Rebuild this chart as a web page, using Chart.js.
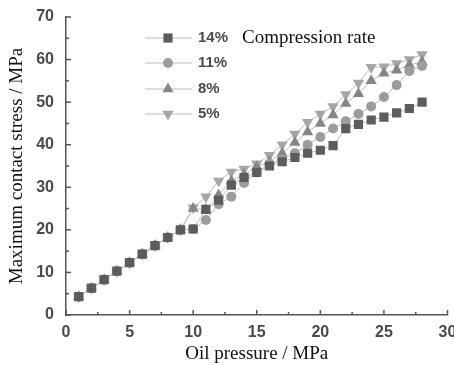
<!DOCTYPE html>
<html>
<head>
<meta charset="utf-8">
<script src="https://cdn.jsdelivr.net/npm/chart.js@4.4.1/dist/chart.umd.min.js"></script>
<style>
  html, body { margin: 0; padding: 0; background: #fff; }
  #wrap { width: 454px; height: 365px; }
</style>
</head>
<body>
<div id="wrap"><canvas id="myChart" width="454" height="365"></canvas></div>
<script>
const pressure = [1,2,3,4,5,6,7,8,9,10,11,12,13,14,15,16,17,18,19,20,21,22,23,24,25,26,27,28];
const start = [4.3, 6.3, 8.3, 10.3, 12.3, 14.3, 16.3, 18.2, 20.0];

const rate14 = start.concat([20.2, 24.8, 27.0, 30.5, 32.3, 33.5, 35.0, 36.0, 37.0, 38.0, 38.7, 39.8, 43.8, 44.8, 45.8, 46.5, 47.5, 48.5, 50.0]);
const rate11 = start.concat([20.2, 22.3, 26.0, 27.8, 31.0, 33.5, 35.5, 36.5, 38.0, 40.0, 41.8, 43.8, 45.5, 47.2, 49.0, 51.2, 54.0, 57.3, 58.5]);
const rate8  = start.concat([25.0, 24.8, 28.2, 31.5, 33.0, 34.8, 36.0, 38.0, 40.5, 43.0, 45.0, 47.0, 49.7, 52.0, 55.0, 56.8, 57.5, 58.7, 59.5]);
const rate5  = start.concat([25.2, 27.8, 31.5, 33.6, 34.3, 35.5, 37.5, 40.0, 42.5, 45.3, 47.2, 49.0, 51.8, 54.5, 58.2, 58.3, 59.1, 60.0, 61.2]);

const seriesNames = ['14%', '11%', '8%', '5%'];
const xTicks = [0, 5, 10, 15, 20, 25, 30];
const yTicks = [0, 10, 20, 30, 40, 50, 60, 70];

const tickFont = { family: 'Liberation Sans, Arial', size: 16, weight: 'bold' };
const serif = 'Liberation Serif, Times New Roman, serif';

function pts(arr) {
  return arr.map((v, i) => ({ x: pressure[i], y: v }));
}

function makeSet(label, arr, style, color, r, rot) {
  return {
    label: label,
    data: pts(arr),
    borderColor: '#bdbdbd',
    borderWidth: 1,
    backgroundColor: color,
    pointBackgroundColor: color,
    pointBorderColor: color,
    pointBorderWidth: 0,
    pointStyle: style,
    pointRotation: rot || 0,
    pointRadius: r,
    tension: 0
  };
}

// inward tick marks + legend drawn inside the plot
const extras = {
  id: 'extras',
  afterDraw(chart) {
    const ctx = chart.ctx;
    const xs = chart.scales.x, ys = chart.scales.y;
    const area = chart.chartArea;
    ctx.save();
    ctx.strokeStyle = '#555';
    ctx.lineWidth = 1.5;
    for (let v = 0; v <= 30; v += 2.5) {
      const px = xs.getPixelForValue(v);
      const len = v % 5 === 0 ? 5 : 3;
      ctx.beginPath();
      ctx.moveTo(px, area.bottom);
      ctx.lineTo(px, area.bottom - len);
      ctx.stroke();
    }
    for (let v = 0; v <= 70; v += 5) {
      const py = ys.getPixelForValue(v);
      const len = v % 10 === 0 ? 5 : 3;
      ctx.beginPath();
      ctx.moveTo(area.left, py);
      ctx.lineTo(area.left + len, py);
      ctx.stroke();
    }

    // legend
    const rowY = [38, 63, 89, 114];
    chart.data.datasets.forEach((ds, i) => {
      const y = rowY[i];
      ctx.strokeStyle = '#bdbdbd';
      ctx.lineWidth = 1;
      ctx.beginPath();
      ctx.moveTo(145, y);
      ctx.lineTo(192, y);
      ctx.stroke();
      ctx.fillStyle = ds.pointBackgroundColor;
      Chart.helpers.drawPoint(ctx, {
        pointStyle: ds.pointStyle,
        rotation: ds.pointRotation,
        radius: ds.pointRadius,
        borderWidth: 0
      }, 168, y);
      ctx.fillStyle = '#4a4a4a';
      ctx.font = 'bold 15px Liberation Sans, Arial';
      ctx.textBaseline = 'middle';
      ctx.textAlign = 'left';
      ctx.fillText(ds.label, 198, y);
    });
    ctx.fillStyle = '#111';
    ctx.font = '19px ' + serif;
    ctx.textBaseline = 'middle';
    ctx.fillText('Compression rate', 242, 38);
    ctx.restore();
  }
};

const ctx = document.getElementById('myChart').getContext('2d');

const myChart = new Chart(ctx, {
  type: 'line',
  data: {
    datasets: [
      makeSet(seriesNames[0], rate14, 'rect', '#5c5c5c', 6.5),
      makeSet(seriesNames[1], rate11, 'circle', '#9c9c9c', 5),
      makeSet(seriesNames[2], rate8, 'triangle', '#868686', 6.5),
      makeSet(seriesNames[3], rate5, 'triangle', '#a6a6a6', 6.5, 180)
    ]
  },
  options: {
    responsive: false,
    animation: false,
    layout: { padding: { left: 0, right: 5, top: 17, bottom: 0 } },
    plugins: {
      legend: { display: false },
      tooltip: { enabled: false }
    },
    scales: {
      x: {
        type: 'linear',
        min: 0,
        max: 30,
        afterBuildTicks: s => { s.ticks = xTicks.map(v => ({ value: v })); },
        afterFit: s => { s.height = 50; s.paddingRight = 0; s.paddingLeft = 0; },
        grid: { display: false },
        border: { display: true, color: '#555', width: 1.5 },
        ticks: { color: '#4a4a4a', font: tickFont, padding: 0, maxRotation: 0 },
        title: {
          display: true,
          text: 'Oil pressure / MPa',
          color: '#111',
          font: { family: serif, size: 19 },
          padding: { top: 0, bottom: 0 }
        }
      },
      y: {
        type: 'linear',
        min: 0,
        max: 70,
        afterBuildTicks: s => { s.ticks = yTicks.map(v => ({ value: v })); },
        afterFit: s => { s.width = 66; },
        grid: { display: false },
        border: { display: true, color: '#555', width: 1.5 },
        ticks: { color: '#4a4a4a', font: tickFont, padding: 4 },
        title: {
          display: true,
          text: 'Maximum contact stress / MPa',
          color: '#111',
          font: { family: serif, size: 19 },
          padding: { top: 6, bottom: 0 }
        }
      }
    }
  },
  plugins: [extras]
});
</script>
</body>
</html>
